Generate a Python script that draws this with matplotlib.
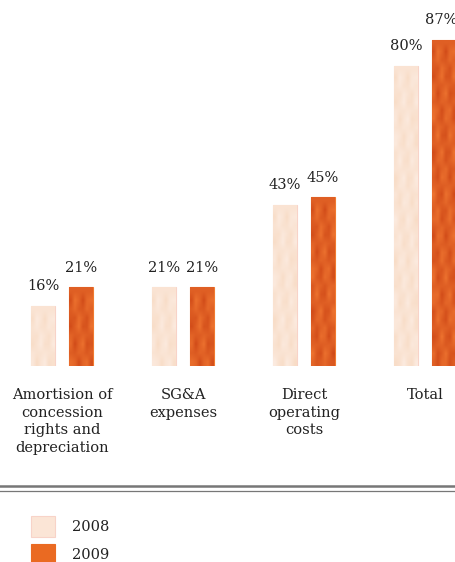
import numpy as np
import matplotlib
matplotlib.use("Agg")
import matplotlib.pyplot as plt
from matplotlib.patches import Rectangle

# cost ratios, 2008 vs 2009
categories = ["Amortision of\nconcession\nrights and\ndepreciation",
              "SG&A\nexpenses",
              "Direct\noperating\ncosts",
              "Total"]
vals_2008 = [16, 21, 43, 80]
vals_2009 = [21, 21, 45, 87]
years = ["2008", "2009"]

light = "#fbe5d6"
light_edge = "#f8d3c8"
orange = "#ea6a22"
orange_dark = "#d04a18"

plt.rcParams["font.family"] = ["DejaVu Serif"]

fig = plt.figure(figsize=(4.56, 5.62), dpi=100)
ax = fig.add_axes([0, (562 - 366) / 562, 1, 366 / 562])
ax.set_xlim(-62 / 121, (456 - 62) / 121)
ax.set_ylim(0, 366 / 3.75)
ax.axis("off")

x = np.arange(len(categories))
w = 24 / 121
off = 19 / 121


def texture(bar, base, dark):
    # mottled fill clipped to the bar
    x0, y0 = bar.get_x(), bar.get_y()
    bw, bh = bar.get_width(), bar.get_height()
    ny = max(int(bh / 2.2), 2)
    yy, xx = np.mgrid[0:ny, 0:6]
    pat = 0.5 + 0.5 * np.sin(yy * 1.3) * np.cos(xx * 1.9 + yy * 0.7)
    c0 = np.array(matplotlib.colors.to_rgb(base))
    c1 = np.array(matplotlib.colors.to_rgb(dark))
    img = c0 + (c1 - c0) * pat[..., None]
    im = ax.imshow(img, extent=(x0, x0 + bw, y0, y0 + bh), aspect="auto",
                   interpolation="bilinear", zorder=2)
    im.set_clip_path(bar)


bars08 = ax.bar(x - off, vals_2008, w, color=light, edgecolor=light_edge,
                linewidth=0.8, zorder=1)
bars09 = ax.bar(x + off, vals_2009, w, color=orange, edgecolor="#f07a30",
                linewidth=0.8, zorder=1)
for b in bars08:
    texture(b, "#fcebe0", "#f8dcc6")
for b in bars09:
    texture(b, "#ee7430", orange_dark)

for bars, vals in ((bars08, vals_2008), (bars09, vals_2009)):
    for i, (b, v) in enumerate(zip(bars, vals)):
        dx = -2 if (bars is bars09 and i == len(vals) - 1) else 0
        ax.annotate(f"{v}%", (b.get_x() + b.get_width() / 2, v),
                    xytext=(dx, 9), textcoords="offset points",
                    ha="center", va="bottom", fontsize=10.5, color="#222222",
                    annotation_clip=False)

# category names under each pair
for i, name in enumerate(categories):
    fx = (62 + 121 * i) / 456
    fig.text(fx, 1 - 388 / 562, name, ha="center", va="top", fontsize=10.5,
             color="#222222", linespacing=1.32)

# double rule
fig.add_artist(plt.Line2D([0, 1], [1 - 486 / 562] * 2, color="#777777", lw=1.8))
fig.add_artist(plt.Line2D([0, 1], [1 - 490.5 / 562] * 2, color="#777777", lw=0.9))

# legend swatches
for j, (yr, c, ec) in enumerate(zip(years, [light, orange], [light_edge, orange])):
    top = 516 + 28 * j
    fig.add_artist(Rectangle((31 / 456, 1 - (top + 21) / 562), 24 / 456, 21 / 562,
                             transform=fig.transFigure, facecolor=c,
                             edgecolor=ec, lw=0.8))
    fig.text(72 / 456, 1 - (top + 11) / 562, yr, ha="left", va="center",
             fontsize=10.5, color="#222222")

fig.savefig("out.png", dpi=100)
